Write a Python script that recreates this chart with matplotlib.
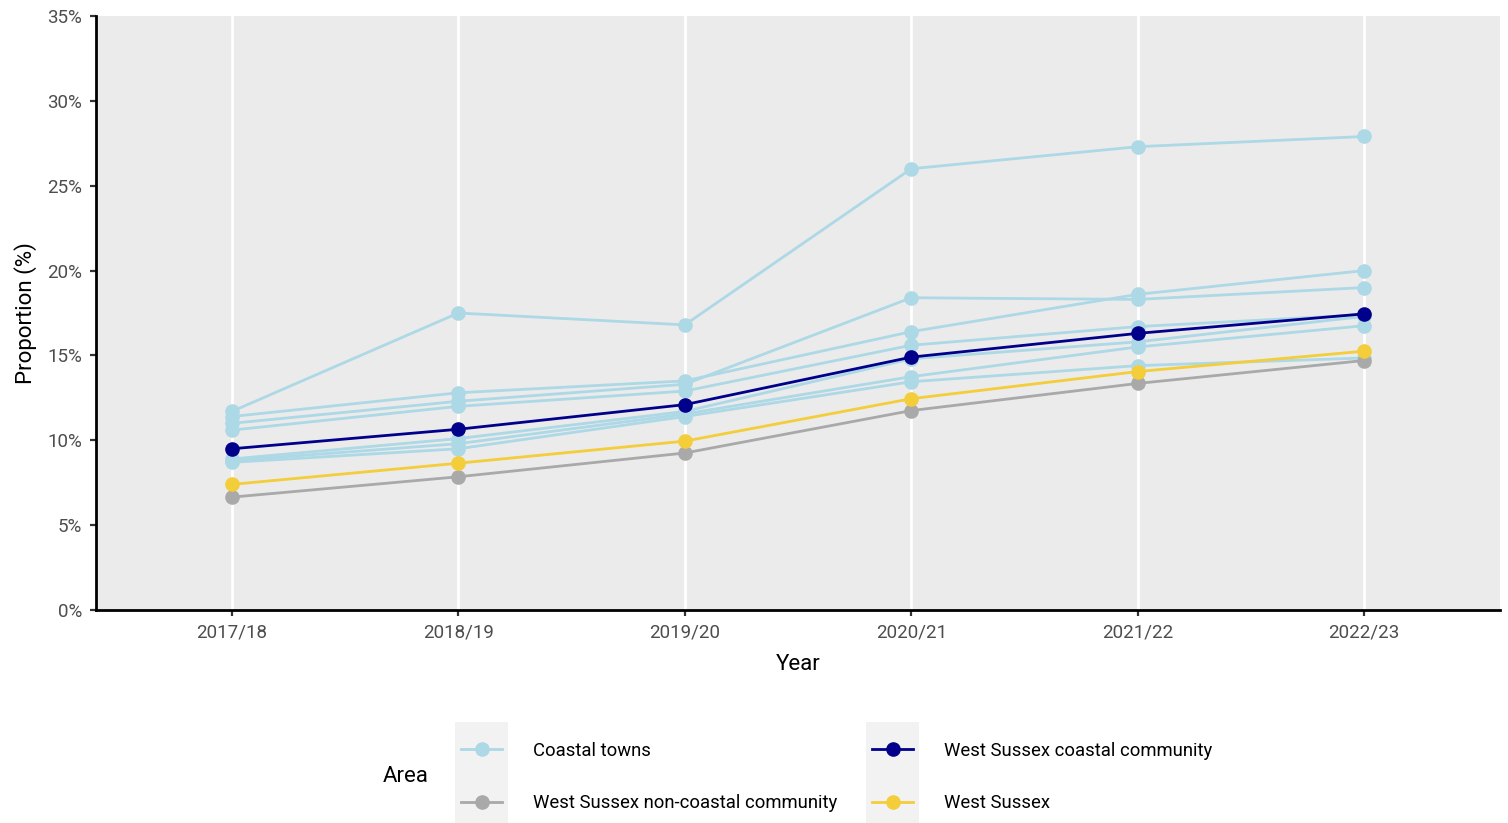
import matplotlib
matplotlib.use("Agg")
import matplotlib.pyplot as plt
from matplotlib.patches import Rectangle
from matplotlib.lines import Line2D
import numpy as np

plt.rcParams['font.family'] = ['Roboto', 'DejaVu Sans']

years = ["2017/18", "2018/19", "2019/20", "2020/21", "2021/22", "2022/23"]

coastal_towns = [
    [11.7, 17.5, 16.8, 26.0, 27.3, 27.9],
    [11.4, 12.8, 13.5, 16.4, 18.6, 20.0],
    [11.0, 12.3, 13.3, 18.4, 18.3, 19.0],
    [10.6, 12.0, 12.9, 15.6, 16.7, 17.4],
    [8.9, 10.1, 11.7, 14.8, 15.8, 17.3],
    [8.8, 9.8, 11.55, 13.75, 15.5, 16.75],
    [8.7, 9.5, 11.4, 13.45, 14.4, 14.85],
]
ws_noncoastal = [6.65, 7.85, 9.25, 11.75, 13.35, 14.7]
ws_all = [7.4, 8.65, 9.95, 12.45, 14.05, 15.25]
ws_coastal = [9.5, 10.65, 12.1, 14.9, 16.3, 17.45]

c_light = "#ADD8E6"
c_gray = "#A9A9A9"
c_yellow = "#F4CD3A"
c_navy = "#00008B"

W, H = 1508, 823
fig = plt.figure(figsize=(W/100, H/100), dpi=100)
ax = fig.add_axes([96/W, 1-610/H, (1500-96)/W, (610-16)/H])
ax.set_facecolor("#EBEBEB")

x = np.arange(1, len(years)+1)
lw = 2.0
ms = 9.5
for s in coastal_towns:
    ax.plot(x, s, color=c_light, lw=lw, marker='o', ms=ms, zorder=2)
ax.plot(x, ws_noncoastal, color=c_gray, lw=lw, marker='o', ms=ms, zorder=3)
ax.plot(x, ws_all, color=c_yellow, lw=lw, marker='o', ms=ms, zorder=4)
ax.plot(x, ws_coastal, color=c_navy, lw=lw, marker='o', ms=ms, zorder=5)

ax.set_xlim(0.4, len(years)+0.6)
ax.set_ylim(0, 35)
ax.set_xticks(x)
ax.set_xticklabels(years)
ax.set_yticks(np.arange(0, 36, 5))
ax.set_yticklabels([f"{v}%" for v in range(0, 36, 5)])
ax.grid(axis='x', color='white', lw=2.0, zorder=1)
ax.set_axisbelow(True)
for sp in ['top', 'right']:
    ax.spines[sp].set_visible(False)
for sp in ['left', 'bottom']:
    ax.spines[sp].set_linewidth(2.0)
    ax.spines[sp].set_color('black')
ax.tick_params(axis='both', colors='#333333', length=4, width=1.6, labelsize=13.5, labelcolor='#4D4D4D')
ax.tick_params(axis='x', pad=6)
ax.tick_params(axis='y', pad=6)
ax.set_xlabel("Year", fontsize=16, color='black', labelpad=9)
ax.set_ylabel("Proportion (%)", fontsize=16, color='black', labelpad=7)

# legend drawn manually in figure pixel coordinates
def fx(px):
    return px / W

def fy(py):
    return 1 - py / H

fig.text(fx(383), fy(777), "Area", fontsize=16, va='center', ha='left')
items = [
    (455, 749, c_light, "Coastal towns"),
    (455, 802, c_gray, "West Sussex non-coastal community"),
    (866, 749, c_navy, "West Sussex coastal community"),
    (866, 802, c_yellow, "West Sussex"),
]
for kx, ky, col, lab in items:
    fig.patches.append(Rectangle((fx(kx), fy(ky+26)), (53)/W, 53/H,
                                 transform=fig.transFigure, facecolor="#F2F2F2",
                                 edgecolor='none', zorder=0))
    fig.lines.append(Line2D([fx(kx+6), fx(kx+47)], [fy(ky), fy(ky)], transform=fig.transFigure,
                            color=col, lw=lw, marker=None))
    fig.lines.append(Line2D([fx(kx+26.5)], [fy(ky)], transform=fig.transFigure,
                            color=col, marker='o', ms=ms, lw=0))
    fig.text(fx(kx+78), fy(ky+1.5), lab, fontsize=13.3, va='center', ha='left', color='black')

fig.savefig("out.png", dpi=100)
